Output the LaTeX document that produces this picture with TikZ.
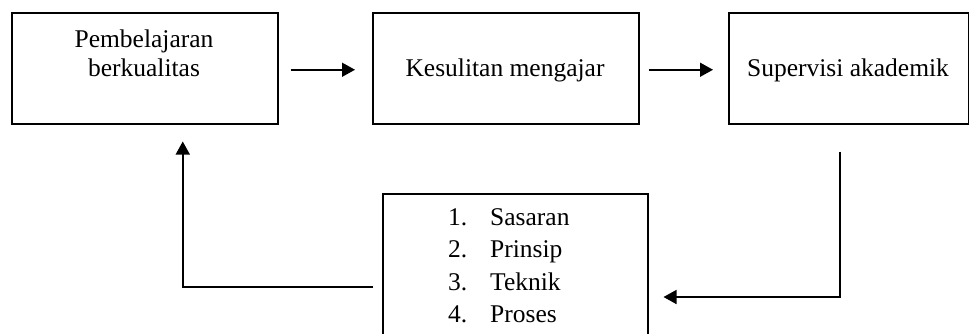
\documentclass[tikz,border=0pt]{standalone}
\usepackage{fontspec}
\setmainfont{Liberation Serif}
\usetikzlibrary{arrows.meta}
\begin{document}
\begin{tikzpicture}[x=1pt,y=-1pt,
  box/.style={draw, line width=1.5pt, minimum height=111pt, inner sep=0pt, anchor=north west},
  txt/.style={font=\fontsize{25.5}{30}\selectfont, anchor=base, inner sep=0pt},
  lst/.style={font=\fontsize{25.5}{30}\selectfont, anchor=base west, inner sep=0pt},
  arr/.style={line width=1.5pt, -{Triangle[length=13pt,width=14pt]}}]
\useasboundingbox (0,0) rectangle (969,333);
\clip (0,0) rectangle (969,333);
% boxes
\node[box, minimum width=266pt] (b1) at (11,12) {};
\node[box, minimum width=266pt] (b2) at (372,12) {};
\node[box, minimum width=240pt] (b3) at (728,12) {};
\node[box, minimum width=265pt, minimum height=170pt] (b4) at (382,193) {};
% texts
\node[txt] (t1a) at (144,47) {Pembelajaran};
\node[txt] (t1b) at (144,76) {berkualitas};
\node[txt] (t2) at (505,76) {Kesulitan mengajar};
\node[txt] (t3) at (848,76) {Supervisi akademik};
\node[lst] (n1) at (448,225) {1.};
\node[lst] (l1) at (490,225) {Sasaran};
\node[lst] (n2) at (448,257.5) {2.};
\node[lst] (l2) at (490,257.5) {Prinsip};
\node[lst] (n3) at (448,290) {3.};
\node[lst] (l3) at (490,290) {Teknik};
\node[lst] (n4) at (448,322.5) {4.};
\node[lst] (l4) at (490,322.5) {Proses};
% connectors
\draw[arr] ([xshift=12pt,yshift=-1.5pt]b1.east) -- ([xshift=-17pt,yshift=-1.5pt]b2.west);
\draw[arr] ([xshift=9pt,yshift=-1.5pt]b2.east) -- ([xshift=-15pt,yshift=-1.5pt]b3.west);
\draw[arr] ([xshift=-9pt,yshift=-27pt]b3.south) |- ([xshift=15pt,yshift=-104pt]b4.north east);
\draw[arr] ([xshift=-9pt,yshift=-94pt]b4.north west) -| ([xshift=38pt,yshift=-17pt]b1.south);
\end{tikzpicture}
\end{document}
